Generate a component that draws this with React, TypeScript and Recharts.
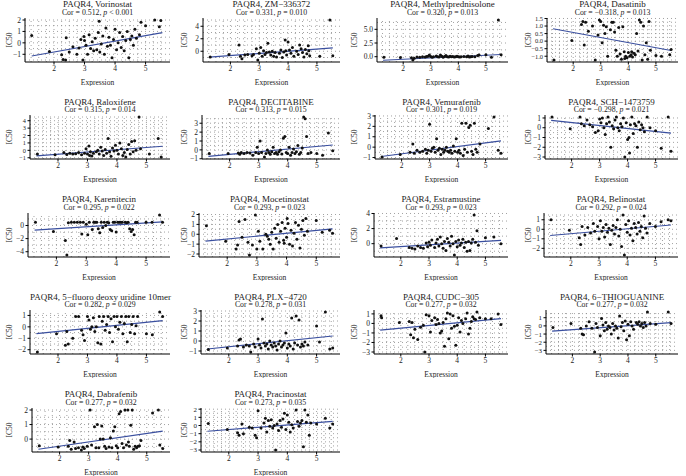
import React from "react";
import { ReferenceLine, Scatter, ScatterChart, XAxis, YAxis } from "recharts";

type Pt = [number, number];

const drugs = [
  "Vorinostat", "ZM−336372", "Methylprednisolone", "Dasatinib",
  "Raloxifene", "DECITABINE", "Vemurafenib", "SCH−1473759",
  "Karenitecin", "Mocetinostat", "Estramustine", "Belinostat",
  "5−fluoro deoxy uridine 10mer", "PLX−4720", "CUDC−305", "6−THIOGUANINE",
  "Dabrafenib", "Pracinostat",
];
const cors = [
  "0.512", "0.331", "0.320", "−0.318", "0.315", "0.313", "0.301", "−0.298", "0.295",
  "0.293", "0.293", "0.292", "0.282", "0.278", "0.277", "0.277", "0.277", "0.273",
];
const pvals = [
  "< 0.001", "= 0.010", "= 0.013", "= 0.013", "= 0.014", "= 0.015", "= 0.019", "= 0.021", "= 0.022",
  "= 0.023", "= 0.023", "= 0.024", "= 0.029", "= 0.031", "= 0.032", "= 0.032", "= 0.032", "= 0.035",
];
const yTicks = [
  [-1, 0, 1, 2], [0, 2, 4], [0, 2.5, 5], [-1, -0.5, 0, 0.5, 1, 1.5],
  [-1, 0, 1, 2, 3, 4], [-1, 0, 1, 2, 3], [-1, 0, 1, 2, 3], [-3, -2, -1, 0, 1],
  [-4, -2, 0], [-2, -1, 0, 1, 2], [0, 2, 4], [-2, -1, 0, 1],
  [-2, -1, 0, 1], [-1, 0, 1, 2, 3], [-3, -2, -1, 0, 1], [-3, -2, -1, 0, 1],
  [0, 1, 2], [-3, -2, -1, 0, 1, 2],
];
const tickDecimals = [0, 0, 1, 1, 0, 0, 0, 0, 0, 0, 0, 0, 0, 0, 0, 0, 0, 0];
const expressionTicks = [2, 3, 4, 5];
const fitX = [1.27, 5.55];
const fitStart = [-1.15, -0.95, -0.65, 0.82, -0.75, -0.72, -0.9, 0.75, -0.7, -0.7, -0.55, -0.65, -0.6, -0.8, -0.7, -0.65, -0.7, -0.7];
const fitEnd = [0.9, 0.55, 0.4, -0.62, 0.55, 0.55, 0.6, -0.55, 0.55, 0.55, 0.45, 0.45, 0.55, 0.5, 0.5, 0.4, 0.55, 0.5];

const vorinostat: Pt[] = [[1.27,0.65],[1.85,-0.75],[2.25,-1.05],[2.3,-1.45],[2.38,-1.5],[2.4,0.45],[2.5,-0.8],[2.62,-0.35],[2.75,-1.0],[2.82,-0.45],[2.88,0.3],[2.95,-1.5],[2.98,0.55],[3.0,0.2],[3.05,-0.2],[3.1,-1.0],[3.15,0.7],[3.2,-0.5],[3.25,0.1],[3.3,-0.7],[3.35,0.4],[3.4,-0.6],[3.45,0.9],[3.48,1.9],[3.5,-0.8],[3.55,-0.1],[3.6,0.6],[3.65,-1.0],[3.7,1.3],[3.75,-0.3],[3.8,0.5],[3.85,-0.2],[3.9,-1.3],[3.95,0.3],[4.0,1.2],[4.05,-0.6],[4.1,0.0],[4.15,0.9],[4.2,-0.4],[4.25,0.55],[4.3,-0.7],[4.35,0.2],[4.4,1.0],[4.45,-1.3],[4.5,0.3],[4.55,0.6],[4.6,-0.2],[4.65,1.2],[4.7,0.4],[4.8,0.7],[4.85,1.8],[5.0,1.5],[5.3,2.0],[5.45,1.4],[5.5,1.95]];
const zm336372: Pt[] = [[1.3,-0.9],[1.95,-0.5],[2.3,1.0],[2.35,-0.8],[2.4,-1.2],[2.5,-0.6],[2.6,-0.5],[2.75,-0.7],[2.8,-0.5],[2.9,0.4],[2.95,-1.4],[3.0,-0.3],[3.05,0.6],[3.1,-0.8],[3.15,0.1],[3.2,-0.5],[3.25,-0.2],[3.3,1.3],[3.35,-0.1],[3.4,-0.6],[3.45,0.0],[3.5,-0.8],[3.55,-0.2],[3.6,-0.9],[3.7,-0.3],[3.75,0.2],[3.8,-1.0],[3.85,-0.1],[3.9,1.8],[3.92,0.1],[3.95,-0.6],[4.0,1.5],[4.05,0.2],[4.1,-0.3],[4.15,0.6],[4.2,-0.8],[4.3,0.0],[4.35,-0.5],[4.4,1.0],[4.45,0.4],[4.5,-0.2],[4.55,-0.9],[4.6,0.3],[4.65,-0.4],[4.7,0.9],[4.72,0.1],[4.75,-0.7],[5.1,-0.8],[5.45,5.0],[5.55,-0.7]];
const methylprednisolone: Pt[] = [[1.3,-0.1],[1.9,-0.15],[2.3,-0.2],[2.35,-0.6],[2.4,-0.3],[2.5,-0.05],[2.6,-0.1],[2.7,0.0],[2.8,-0.05],[2.85,0.05],[2.9,0.1],[2.95,0.3],[3.0,0.05],[3.05,-0.1],[3.1,0.0],[3.2,0.15],[3.25,0.0],[3.3,-0.05],[3.35,0.3],[3.4,0.1],[3.45,-0.1],[3.5,0.05],[3.55,0.2],[3.6,0.0],[3.65,-0.05],[3.7,0.1],[3.75,0.0],[3.8,0.05],[3.85,-0.05],[3.9,0.0],[3.95,0.1],[4.0,0.0],[4.05,-0.05],[4.1,0.0],[4.2,0.05],[4.3,0.0],[4.35,0.15],[4.4,-0.05],[4.45,0.0],[4.5,0.05],[4.6,0.0],[4.7,0.2],[4.75,0.3],[5.0,0.35],[5.2,-0.1],[5.45,6.7],[5.55,0.35]];
const dasatinib: Pt[] = [[1.3,-1.25],[1.95,0.05],[2.3,1.1],[2.35,1.3],[2.4,-0.25],[2.45,1.25],[2.55,0.65],[2.7,1.0],[2.8,-1.25],[2.9,0.4],[2.95,1.4],[3.0,1.3],[3.05,-0.1],[3.1,1.05],[3.15,0.5],[3.2,0.95],[3.25,-1.0],[3.35,0.75],[3.4,1.25],[3.45,1.25],[3.5,0.6],[3.55,-0.6],[3.6,-1.0],[3.65,0.9],[3.7,-0.85],[3.75,-1.2],[3.8,0.95],[3.85,-0.7],[3.87,-1.15],[3.9,-1.0],[3.95,-1.1],[4.0,-0.75],[4.05,-1.0],[4.1,-0.9],[4.12,-0.7],[4.15,-1.05],[4.2,-0.8],[4.25,-0.9],[4.3,0.5],[4.35,-0.65],[4.4,1.4],[4.45,1.25],[4.5,-1.25],[4.55,1.0],[4.6,-0.9],[4.65,-0.1],[4.7,-1.2],[4.75,1.3],[4.8,-0.6],[5.0,-0.95],[5.2,-1.0],[5.5,-0.9],[5.55,-0.55]];
const raloxifene: Pt[] = [[1.3,-0.5],[1.9,-0.6],[2.2,-0.3],[2.3,-0.55],[2.4,-0.4],[2.5,-0.5],[2.6,-0.45],[2.7,-0.3],[2.8,-0.6],[2.9,-0.4],[2.95,0.2],[3.0,-0.5],[3.05,0.6],[3.07,-0.7],[3.1,-0.2],[3.15,-0.75],[3.2,-0.4],[3.3,-0.2],[3.35,0.0],[3.4,-0.5],[3.45,0.4],[3.5,-0.1],[3.55,-0.7],[3.6,0.1],[3.65,-0.4],[3.7,1.6],[3.75,-0.2],[3.8,-0.8],[3.85,0.3],[3.9,-0.1],[3.95,0.7],[4.0,0.0],[4.05,-0.5],[4.1,1.0],[4.15,0.2],[4.2,-0.7],[4.25,-0.3],[4.3,-0.9],[4.35,0.1],[4.4,0.8],[4.45,-0.5],[4.5,1.2],[4.55,-0.2],[4.6,1.3],[4.65,0.0],[4.75,4.5],[4.8,0.2],[5.1,-0.5],[5.4,1.6],[5.5,-0.9]];
const decitabine: Pt[] = [[1.3,-0.4],[1.95,-0.4],[2.3,-0.35],[2.35,-0.5],[2.4,-0.3],[2.5,-0.4],[2.6,-0.3],[2.7,-0.35],[2.8,-0.6],[2.9,-0.3],[2.95,0.3],[3.0,-0.4],[3.05,1.0],[3.1,-0.3],[3.2,-0.8],[3.25,-0.4],[3.3,0.0],[3.35,-0.3],[3.4,-0.5],[3.45,-0.2],[3.5,0.3],[3.55,-0.4],[3.6,-0.3],[3.65,-0.5],[3.7,-0.2],[3.75,0.0],[3.8,-0.45],[3.85,1.3],[3.9,1.5],[3.95,-0.3],[4.0,-0.4],[4.05,0.3],[4.1,-0.6],[4.15,-0.3],[4.2,0.1],[4.25,-0.4],[4.3,-0.2],[4.35,0.5],[4.4,-0.5],[4.45,-0.3],[4.5,0.2],[4.55,3.7],[4.6,3.5],[4.65,1.5],[4.7,-0.4],[4.8,-0.3],[5.0,-0.4],[5.2,-0.6],[5.4,1.9],[5.55,-0.1]];
const vemurafenib: Pt[] = [[1.3,-0.95],[1.95,-0.7],[2.3,-0.5],[2.4,0.3],[2.45,-0.6],[2.55,-0.3],[2.65,-0.5],[2.75,-0.4],[2.85,-0.2],[2.9,-0.6],[2.95,-0.3],[3.0,2.2],[3.05,-0.4],[3.1,-0.1],[3.15,0.0],[3.2,-0.5],[3.25,0.8],[3.3,-0.3],[3.35,-0.1],[3.4,-0.7],[3.45,-0.2],[3.5,-0.5],[3.55,-0.3],[3.6,0.0],[3.65,-0.4],[3.7,-0.5],[3.75,-0.3],[3.8,-0.6],[3.85,0.1],[3.9,-0.4],[3.95,0.8],[4.0,-0.5],[4.05,-0.3],[4.1,-0.6],[4.15,2.3],[4.2,-0.8],[4.25,-0.2],[4.3,2.3],[4.35,-0.5],[4.4,1.9],[4.45,2.1],[4.5,-0.4],[4.55,-0.7],[4.6,2.3],[4.65,-0.2],[4.7,-0.5],[4.8,0.3],[5.1,1.8],[5.3,2.9],[5.45,-0.3],[5.55,-0.6]];
const sch1473759: Pt[] = [[1.3,1.1],[1.95,-0.1],[2.3,1.1],[2.35,0.4],[2.45,0.2],[2.55,0.8],[2.65,0.3],[2.75,0.1],[2.85,-0.5],[2.95,-0.3],[3.0,0.9],[3.05,0.5],[3.1,1.0],[3.15,0.0],[3.2,-0.7],[3.25,0.4],[3.3,1.1],[3.35,0.6],[3.4,-2.0],[3.45,0.2],[3.5,-0.1],[3.55,0.8],[3.6,1.1],[3.65,0.0],[3.7,-0.3],[3.75,0.4],[3.8,0.1],[3.85,1.0],[3.9,-3.0],[3.95,0.5],[4.0,-1.2],[4.05,-1.0],[4.07,-2.6],[4.1,0.3],[4.15,1.1],[4.2,-0.6],[4.25,0.4],[4.3,0.2],[4.35,-2.0],[4.4,0.6],[4.45,-0.2],[4.5,0.3],[4.55,0.0],[4.6,-0.4],[4.7,1.1],[4.8,0.0],[5.0,-0.3],[5.2,-2.1],[5.45,1.1],[5.55,-2.4]];
const karenitecin: Pt[] = [[1.3,0.5],[1.9,-0.9],[2.3,-2.3],[2.35,-4.5],[2.4,0.4],[2.5,0.5],[2.6,0.5],[2.7,0.5],[2.8,0.5],[2.85,-1.3],[2.9,0.5],[3.0,0.2],[3.05,-1.4],[3.1,0.5],[3.2,-0.6],[3.25,0.5],[3.3,0.5],[3.35,0.5],[3.4,-0.5],[3.45,-1.1],[3.5,0.5],[3.55,-0.3],[3.6,0.5],[3.65,0.0],[3.7,0.5],[3.75,0.4],[3.8,-0.6],[3.85,-0.8],[3.9,0.5],[3.95,0.5],[4.0,-1.0],[4.05,0.5],[4.1,0.5],[4.15,0.5],[4.2,0.5],[4.3,0.5],[4.35,0.4],[4.4,0.5],[4.45,-0.5],[4.5,-0.9],[4.55,-0.6],[4.6,-1.4],[4.65,0.5],[4.7,0.5],[5.0,0.5],[5.2,0.5],[5.45,1.6],[5.55,0.5]];
const mocetinostat: Pt[] = [[1.3,0.85],[1.95,-0.7],[2.3,-1.5],[2.35,-1.1],[2.4,1.3],[2.5,-0.3],[2.6,1.5],[2.7,-0.8],[2.75,-2.1],[2.85,-1.1],[2.95,1.95],[3.0,-1.5],[3.05,0.3],[3.1,-0.7],[3.2,-1.5],[3.3,0.0],[3.35,-0.2],[3.4,-0.5],[3.45,-1.0],[3.5,0.2],[3.55,-1.5],[3.6,0.6],[3.65,-0.4],[3.7,1.0],[3.75,-0.8],[3.8,0.3],[3.85,1.2],[3.9,-0.6],[3.92,-0.9],[3.95,0.6],[4.0,-0.3],[4.02,1.6],[4.05,1.1],[4.1,-1.0],[4.15,0.4],[4.2,-1.2],[4.25,0.1],[4.3,1.2],[4.35,-0.5],[4.4,0.9],[4.45,-1.4],[4.5,0.5],[4.55,1.4],[4.6,-0.1],[4.65,1.6],[4.7,0.3],[5.0,1.4],[5.2,0.2],[5.45,0.4],[5.55,0.1]];
const estramustine: Pt[] = [[1.3,-0.3],[1.85,0.7],[2.3,-0.5],[2.4,-0.6],[2.5,-0.7],[2.6,-0.3],[2.7,-0.5],[2.8,-0.6],[2.9,0.1],[2.95,-0.4],[3.0,0.2],[3.05,-0.2],[3.1,0.5],[3.2,-0.5],[3.25,0.1],[3.3,0.6],[3.35,-0.3],[3.4,0.9],[3.45,0.0],[3.5,-0.6],[3.55,0.3],[3.6,-0.9],[3.65,0.7],[3.7,0.2],[3.75,-0.3],[3.8,1.0],[3.85,0.0],[3.9,-1.5],[3.95,0.3],[4.0,-0.4],[4.05,0.5],[4.1,-0.2],[4.15,0.1],[4.2,0.6],[4.25,-0.5],[4.3,0.2],[4.35,-1.0],[4.4,0.3],[4.45,-0.9],[4.5,0.1],[4.55,0.6],[4.6,3.8],[4.65,0.2],[4.7,1.7],[4.75,-0.2],[5.0,0.8],[5.3,0.9],[5.55,0.0]];
const belinostat: Pt[] = [[1.3,1.0],[1.95,-0.1],[2.3,-0.9],[2.35,-1.6],[2.4,0.3],[2.5,-0.6],[2.6,0.2],[2.7,-0.4],[2.8,0.6],[2.85,-0.2],[2.95,0.3],[3.0,-1.0],[3.05,0.9],[3.1,-0.2],[3.15,0.2],[3.2,-0.8],[3.25,0.5],[3.3,-0.3],[3.35,0.1],[3.4,-1.6],[3.45,-0.1],[3.5,0.4],[3.55,-0.5],[3.6,0.2],[3.65,1.0],[3.7,-0.7],[3.75,0.0],[3.8,-1.8],[3.85,1.5],[3.9,-2.7],[3.95,0.5],[4.0,-0.3],[4.05,0.9],[4.1,-0.6],[4.15,0.1],[4.2,-1.2],[4.25,0.6],[4.3,0.2],[4.35,-0.5],[4.4,0.7],[4.45,-0.2],[4.5,0.3],[4.55,-0.9],[4.6,1.4],[4.65,0.1],[4.7,-0.4],[4.8,0.6],[5.0,0.3],[5.2,0.8],[5.45,1.0],[5.55,0.9]];
const fluoroDeoxyUridine: Pt[] = [[1.3,-2.2],[1.95,-0.6],[2.25,-1.6],[2.3,-0.4],[2.35,-1.5],[2.5,-1.0],[2.6,0.9],[2.7,0.9],[2.8,-0.3],[2.85,-0.7],[2.9,-1.2],[3.0,0.9],[3.05,0.6],[3.1,-0.2],[3.15,0.0],[3.2,0.8],[3.25,-0.4],[3.3,0.0],[3.35,-1.4],[3.4,0.9],[3.45,-1.5],[3.5,0.5],[3.55,0.9],[3.6,-0.3],[3.65,0.2],[3.7,0.9],[3.75,-0.5],[3.8,0.7],[3.85,-1.3],[3.9,0.9],[3.95,0.0],[4.0,0.9],[4.05,-0.2],[4.1,0.4],[4.15,0.9],[4.2,-0.6],[4.25,0.3],[4.3,0.9],[4.35,-1.3],[4.4,0.9],[4.45,-0.5],[4.5,0.2],[4.55,0.9],[4.6,-0.6],[4.65,0.1],[4.7,0.9],[5.0,-0.6],[5.2,-0.7],[5.45,1.3],[5.55,0.9]];
const plx4720: Pt[] = [[1.3,-0.85],[1.95,-0.7],[2.3,-0.5],[2.35,0.1],[2.4,0.2],[2.5,-0.6],[2.6,-0.4],[2.7,-0.5],[2.75,-1.1],[2.85,-0.3],[2.9,-0.6],[3.0,0.2],[3.05,-0.4],[3.1,-0.7],[3.15,2.2],[3.2,-0.2],[3.25,-0.5],[3.3,-0.3],[3.35,-0.8],[3.4,0.0],[3.45,-0.4],[3.5,-0.6],[3.55,-0.2],[3.6,-0.5],[3.65,-0.9],[3.7,-0.3],[3.75,0.0],[3.8,-0.6],[3.85,-0.4],[3.9,-0.2],[3.95,0.8],[4.0,-0.7],[4.05,-0.3],[4.1,-0.5],[4.15,2.3],[4.2,-0.8],[4.25,-0.2],[4.3,2.5],[4.35,-0.4],[4.4,2.1],[4.45,-0.6],[4.5,-0.3],[4.55,-0.5],[4.6,-0.1],[4.7,-0.4],[5.0,1.5],[5.1,-0.1],[5.3,2.9],[5.45,-0.8],[5.55,-0.7]];
const cudc305: Pt[] = [[1.3,0.8],[1.32,0.6],[1.95,0.1],[2.3,0.2],[2.35,-1.2],[2.4,0.1],[2.45,-1.5],[2.5,-0.6],[2.6,-1.7],[2.7,-0.4],[2.8,-0.2],[2.85,-3.0],[2.9,0.9],[3.0,0.8],[3.05,-0.9],[3.1,0.3],[3.2,0.6],[3.25,-0.1],[3.3,0.4],[3.35,0.0],[3.4,-1.0],[3.45,-0.8],[3.5,0.1],[3.55,-2.4],[3.6,0.5],[3.65,1.1],[3.7,-1.6],[3.75,1.0],[3.8,-0.5],[3.85,0.8],[3.9,-0.3],[3.95,-2.3],[4.0,-0.2],[4.05,0.6],[4.1,-0.9],[4.15,0.3],[4.2,0.0],[4.3,0.5],[4.35,1.1],[4.4,-1.1],[4.45,-0.5],[4.5,0.2],[4.55,0.7],[4.6,0.5],[4.65,0.4],[4.7,1.2],[4.8,0.6],[5.0,0.5],[5.2,0.5],[5.45,1.0],[5.55,-0.1]];
const thioguanine: Pt[] = [[1.3,-0.2],[1.95,0.3],[2.3,-0.3],[2.35,-1.0],[2.4,-1.1],[2.5,0.0],[2.6,0.5],[2.7,-0.3],[2.8,-3.2],[2.85,0.3],[2.9,-0.2],[3.0,-1.2],[3.05,0.9],[3.1,0.1],[3.15,-0.6],[3.2,0.4],[3.25,-0.4],[3.3,0.0],[3.35,-0.2],[3.4,-1.0],[3.45,0.3],[3.5,-0.5],[3.55,0.0],[3.6,-0.3],[3.65,-1.5],[3.7,1.2],[3.75,-0.1],[3.8,0.4],[3.85,-0.6],[3.9,0.6],[3.95,-1.7],[4.0,0.2],[4.05,-1.2],[4.1,0.5],[4.15,0.0],[4.2,-0.4],[4.3,0.4],[4.35,0.2],[4.4,0.5],[4.45,0.0],[4.5,0.3],[4.55,-0.2],[4.6,0.4],[4.65,0.0],[4.7,1.7],[4.8,0.3],[5.0,0.2],[5.45,1.7],[5.55,0.3]];
const dabrafenib: Pt[] = [[1.3,-0.45],[1.95,-0.55],[2.3,-0.5],[2.35,-0.1],[2.4,-0.7],[2.5,-0.2],[2.55,-0.65],[2.65,-0.6],[2.75,-0.75],[2.8,-0.55],[2.85,-0.65],[2.95,-0.5],[3.05,2.0],[3.1,-0.4],[3.2,0.85],[3.25,-0.6],[3.3,1.0],[3.35,-0.6],[3.4,0.0],[3.45,0.9],[3.5,0.0],[3.55,-0.5],[3.6,-0.65],[3.7,-0.55],[3.75,0.1],[3.8,-0.6],[3.85,0.55],[3.9,0.85],[3.95,-0.45],[4.0,-0.6],[4.05,1.75],[4.1,1.9],[4.15,-0.3],[4.2,-0.6],[4.25,2.0],[4.3,-0.4],[4.35,2.0],[4.37,-0.2],[4.4,-0.5],[4.45,0.95],[4.5,2.0],[4.55,-0.7],[4.6,-0.5],[4.65,-0.6],[4.7,-0.5],[4.75,-0.45],[4.8,-0.1],[5.2,1.8],[5.4,2.0],[5.45,-0.4],[5.55,-0.65]];
const pracinostat: Pt[] = [[1.3,0.25],[1.95,-0.5],[2.3,-0.9],[2.35,-1.2],[2.45,0.2],[2.5,-1.0],[2.7,-0.2],[2.8,-0.3],[2.9,-1.2],[2.95,-1.5],[3.0,1.8],[3.1,-0.3],[3.2,0.3],[3.25,0.9],[3.3,-0.8],[3.35,0.6],[3.4,-0.1],[3.45,0.7],[3.5,-0.3],[3.55,0.0],[3.6,-3.0],[3.65,0.2],[3.7,-0.6],[3.75,0.6],[3.8,-0.2],[3.85,0.8],[3.9,1.5],[3.95,-0.5],[4.0,1.3],[4.05,0.4],[4.1,-0.8],[4.15,0.1],[4.2,-0.3],[4.3,1.9],[4.35,0.5],[4.4,-0.1],[4.45,0.3],[4.5,0.6],[4.55,-2.6],[4.6,1.9],[4.65,0.4],[4.7,1.3],[4.75,-1.2],[4.8,0.3],[5.0,0.2],[5.3,0.9],[5.45,-0.3],[5.55,0.2]];

const panelPoints = [
  vorinostat, zm336372, methylprednisolone, dasatinib,
  raloxifene, decitabine, vemurafenib, sch1473759,
  karenitecin, mocetinostat, estramustine, belinostat,
  fluoroDeoxyUridine, plx4720, cudc305, thioguanine,
  dabrafenib, pracinostat,
];

// layout
const FONT = '"Liberation Serif", serif';
const ROW_H = 97.5;
const PLOT_H = 44;
const colBase = [0, 170, 340, 509];
const plotRight = [170, 340, 508, 678];
const plotLeft = [25, 203, 377, 547, 30, 202, 375, 545, 28, 199, 374, 544, 30, 201, 374, 546, 32, 201];
const ic50Offset = [9, 14, 14, 19];
const X_DOMAIN: [number, number] = [1.05, 5.8];
const LINE_BLUE = "#3a4f9f";
const GRID = "#8a8a8a";

const fmt = (v: number, d: number) => v.toFixed(d).replace("-", "−");

const Dot = (props: any) => <circle cx={props.cx} cy={props.cy} r={1.5} fill="#111" />;

function Panel({ i }: { i: number }) {
  const row = Math.floor(i / 4);
  const col = i % 4;
  const base = colBase[col];
  const yw = plotLeft[i] - base;
  const width = plotRight[col] - base + 1;
  const data = panelPoints[i].map(([x, y]) => ({ x, y }));
  const ys = data.map((d) => d.y);
  const lo = Math.min(...ys);
  const hi = Math.max(...ys);
  const pad = (hi - lo) * 0.05;
  const domain: [number, number] = [lo - pad, hi + pad];
  const ticks = yTicks[i];
  const step = ticks[1] - ticks[0];
  const tickGap = (PLOT_H * step) / (domain[1] - domain[0]);
  const yTickFont = Math.min(7.5, tickGap * 0.85);
  const hGrid: number[] = [];
  for (let k = -12; k <= 24; k++) {
    const v = ticks[0] + (k * step) / 2;
    if (v > domain[0] && v < domain[1]) hGrid.push(v);
  }
  const vGrid: number[] = [];
  for (let k = 1; k <= 18; k++) vGrid.push(1 + k * 0.25);

  return (
    <div style={{ position: "absolute", left: base, top: row * ROW_H, width, height: ROW_H }}>
      <div
        style={{
          position: "absolute", left: yw, width: width - yw - 1, top: 0.3,
          textAlign: "center", fontSize: 9, lineHeight: "8.5px", color: "#1a1a1a", whiteSpace: "nowrap",
        }}
      >
        PAQR4, {drugs[i]}
      </div>
      <div
        style={{
          position: "absolute", left: yw, width: width - yw - 1, top: 8.9,
          textAlign: "center", fontSize: 7.8, lineHeight: "7px", color: "#1a1a1a", whiteSpace: "nowrap",
        }}
      >
        Cor = {cors[i]}, <i>p</i> {pvals[i]}
      </div>
      <div style={{ position: "absolute", left: 0, top: 11.7 }}>
        <ScatterChart width={width} height={74} margin={{ top: 6, right: 1, bottom: 0, left: 0 }}>
          <XAxis
            type="number"
            dataKey="x"
            domain={X_DOMAIN}
            ticks={expressionTicks}
            interval={0}
            allowDataOverflow
            height={24}
            tickSize={2.5}
            tickMargin={1.5}
            tickLine={{ stroke: "#000" }}
            axisLine={{ stroke: "#000" }}
            tick={{ fontSize: 7.5, fill: "#222" }}
            label={{ value: "Expression", position: "insideBottom", offset: 1, fontSize: 7.5, fill: "#222" }}
          />
          <XAxis xAxisId="top" orientation="top" type="number" domain={[0, 1]} height={0} tick={false} tickLine={false} axisLine={{ stroke: "#000" }} />
          <YAxis
            type="number"
            dataKey="y"
            domain={domain}
            ticks={ticks}
            interval={0}
            allowDataOverflow
            width={yw}
            tickSize={2.5}
            tickMargin={1.5}
            tickLine={{ stroke: "#000" }}
            axisLine={{ stroke: "#000" }}
            tick={{ fontSize: yTickFont, fill: "#222" }}
            tickFormatter={(v: number) => fmt(v, tickDecimals[i])}
            label={(p: any) => {
              const vb = p.viewBox || {};
              const cx = (vb.x ?? 0) + ic50Offset[col];
              const cy = (vb.y ?? 0) + (vb.height ?? 0) / 2;
              return (
                <text x={cx} y={cy} transform={`rotate(-90 ${cx} ${cy})`} textAnchor="middle" dominantBaseline="central" fontSize={7.5} fill="#222">
                  IC50
                </text>
              );
            }}
          />
          <YAxis yAxisId="right" orientation="right" type="number" domain={[0, 1]} width={0} tick={false} tickLine={false} axisLine={{ stroke: "#000" }} />
          {vGrid.map((v) => (
            <ReferenceLine key={`v${v}`} x={v} stroke={GRID} strokeWidth={0.8} strokeDasharray="1 3" />
          ))}
          {hGrid.map((v) => (
            <ReferenceLine key={`h${v}`} y={v} stroke={GRID} strokeWidth={0.8} strokeDasharray="1 3" />
          ))}
          <Scatter data={data} shape={Dot} isAnimationActive={false} />
          <ReferenceLine
            segment={[
              { x: fitX[0], y: fitStart[i] },
              { x: fitX[1], y: fitEnd[i] },
            ]}
            stroke={LINE_BLUE}
            strokeWidth={1.2}
          />
        </ScatterChart>
      </div>
    </div>
  );
}

export default function App() {
  return (
    <div style={{ position: "absolute", left: 0, top: 0, width: 686, height: 476, background: "#fff", fontFamily: FONT }}>
      {drugs.map((_, i) => (
        <Panel key={i} i={i} />
      ))}
    </div>
  );
}
